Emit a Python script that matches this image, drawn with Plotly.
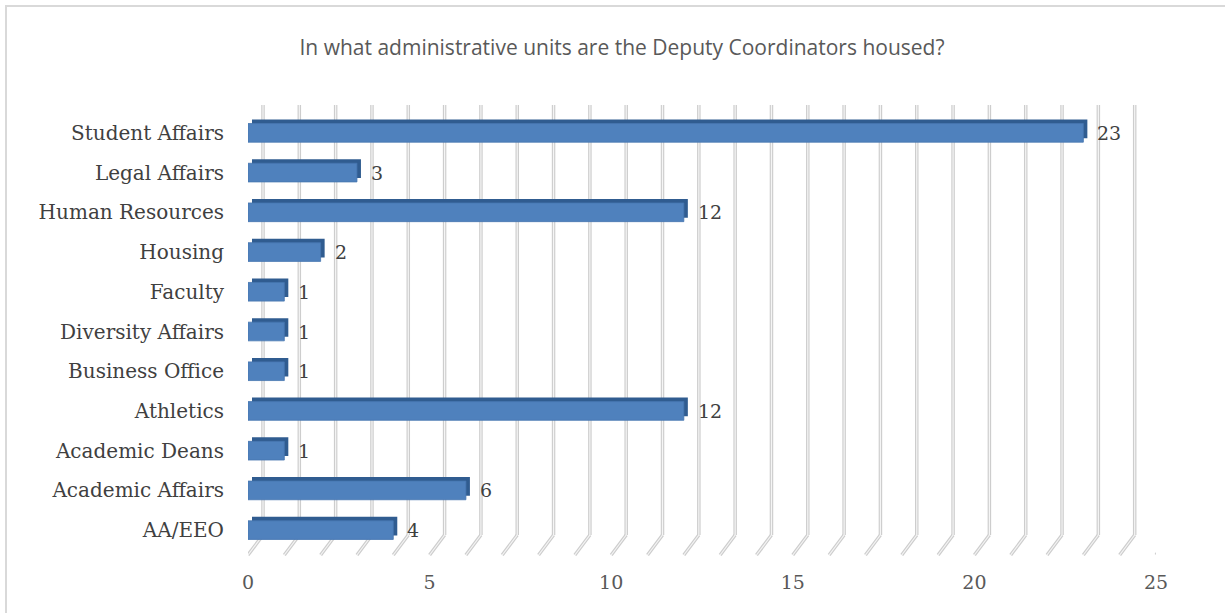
import plotly.graph_objects as go

categories = ["AA/EEO", "Academic Affairs", "Academic Deans", "Athletics",
              "Business Office", "Diversity Affairs", "Faculty", "Housing",
              "Human Resources", "Legal Affairs", "Student Affairs"]
values = [4, 6, 1, 12, 1, 1, 1, 2, 12, 3, 23]
x_ticks = [0, 5, 10, 15, 20, 25]
title_text = "In what administrative units are the Deputy Coordinators housed?"

W, H = 1225, 613
L, R = 248, 1156          # plot area px
T, B = 113, 550
DEPTH = 15                # 3D wall offset px
EXT = 4                   # bar extrusion px
XMAX = 25
NCAT = len(categories)

def px_x(p):
    return (p - L) / (R - L)

def px_y(p):
    return (B - p) / (B - T)

xs = XMAX / (R - L)
ys = NCAT / (B - T)

fig = go.Figure()

# extrusion (dark copy offset up-right) on x2/y2
fig.add_trace(go.Bar(
    y=categories, x=values, orientation="h", width=0.47,
    marker=dict(color="#305C90", line=dict(width=0)),
    xaxis="x2", yaxis="y2", hoverinfo="skip", showlegend=False))

# front face on x3/y3 (drawn on top)
fig.add_trace(go.Bar(
    y=categories, x=values, orientation="h", width=0.47,
    marker=dict(color="#4F81BD", line=dict(width=0.8, color="#4676B0")),
    xaxis="x3", yaxis="y3", showlegend=False))

shapes = []
for t in range(0, XMAX + 1):
    for wdt, col in ((3.5, "#cdcdcd"), (1.2, "#f5f5f5")):
        shapes.append(dict(type="line", xref="x", yref="paper",
                           xsizemode="pixel", xanchor=t, x0=DEPTH, x1=DEPTH,
                           y0=px_y(B - DEPTH), y1=px_y(105),
                           line=dict(color=col, width=wdt), layer="below"))
        shapes.append(dict(type="line", xref="x", yref="paper",
                           xsizemode="pixel", xanchor=t, x0=0, x1=DEPTH,
                           ysizemode="pixel", yanchor=px_y(B + 5), y0=0, y1=DEPTH + 5,
                           line=dict(color=col, width=wdt), layer="below"))

# outer frame
shapes.append(dict(type="rect", xref="paper", yref="paper",
                   x0=px_x(6), x1=px_x(W + 20), y0=px_y(H + 20), y1=px_y(6),
                   line=dict(color="#d9d9d9", width=2), layer="below"))

annotations = []
for c, v in zip(categories, values):
    annotations.append(dict(x=v, y=c, xref="x", yref="y", text=str(v),
                            showarrow=False, xanchor="left", xshift=12, yshift=0,
                            font=dict(family="DejaVu Serif", size=19, color="#404040")))

cat_axis = dict(type="category", categoryorder="array", categoryarray=categories)

fig.update_layout(
    width=W, height=H,
    margin=dict(l=L, r=W - R, t=T, b=H - B, pad=0),
    paper_bgcolor="white", plot_bgcolor="rgba(0,0,0,0)",
    barmode="overlay",
    title=dict(text=title_text, x=622 / W, xanchor="center", xref="container",
               y=1 - 48 / H, yanchor="middle", yref="container",
               font=dict(family="Open Sans", size=21, color="#595959")),
    xaxis=dict(range=[0, XMAX], tickvals=x_ticks, showgrid=False, zeroline=False,
               showline=False, ticks="", ticklabelstandoff=19,
               tickfont=dict(family="DejaVu Serif", size=19, color="#595959")),
    yaxis=dict(**cat_axis, range=[-0.5, NCAT - 0.5], showgrid=False, zeroline=False,
               showline=False, ticks="", ticklabelstandoff=23,
               tickfont=dict(family="DejaVu Serif", size=20, color="#404040")),
    xaxis2=dict(range=[-EXT * xs, XMAX - EXT * xs], overlaying="x", visible=False),
    yaxis2=dict(**cat_axis, range=[-0.5 - EXT * ys, NCAT - 0.5 - EXT * ys],
                overlaying="y", visible=False, anchor="x2"),
    xaxis3=dict(range=[0, XMAX], overlaying="x", visible=False),
    yaxis3=dict(**cat_axis, range=[-0.5, NCAT - 0.5],
                overlaying="y", visible=False, anchor="x3"),
    shapes=shapes, annotations=annotations,
)

fig.write_html("out.html", config={"displayModeBar": False},
               post_script="document.body.style.margin='0';document.body.style.overflow='hidden';")
